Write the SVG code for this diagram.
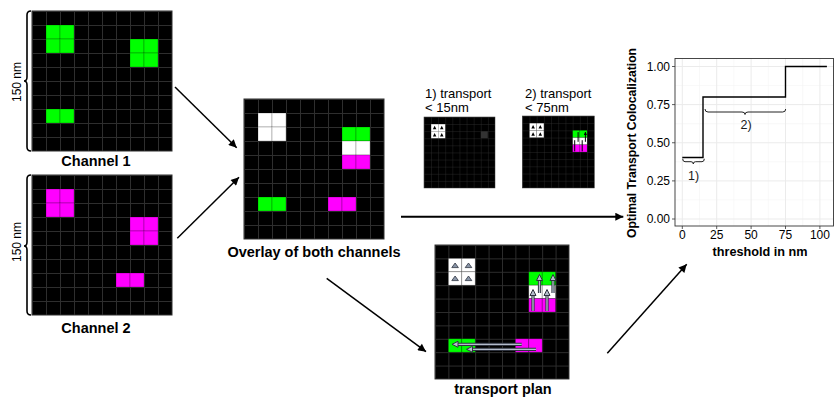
<svg xmlns="http://www.w3.org/2000/svg" width="835" height="399" viewBox="0 0 835 399">
<defs>
<pattern id="grid" width="14" height="14" patternUnits="userSpaceOnUse"><rect width="14" height="14" fill="#000"/><path d="M0 .5H14M.5 0V14" stroke="#2e2e2e" stroke-width="1"/></pattern>
<marker id="ah" viewBox="0 0 10 10" markerWidth="10" markerHeight="8" markerUnits="userSpaceOnUse" refX="10" refY="5" orient="auto"><path d="M0 0L10 5L0 10z" fill="#000"/></marker>
<marker id="sah" viewBox="0 0 10 10" markerWidth="3.5" markerHeight="3.5" markerUnits="userSpaceOnUse" refX="9" refY="5" orient="auto"><path d="M0 0L10 5L0 10z" fill="#000"/></marker>
</defs>
<style>
text{font-family:"Liberation Sans",Arial,sans-serif;fill:#000}
.lbl{font-weight:bold;font-size:14.5px;text-anchor:middle}
.nm{font-size:12px;text-anchor:middle}
.cap{font-size:13px}
.g{fill:#00ff00}
.m{fill:#ff00ff}
.w{fill:#fff}
.gr{fill:#333}
.cells rect{stroke:#000;stroke-opacity:.28;stroke-width:.8}
.frame{fill:url(#grid);stroke:#2e2e2e;stroke-width:1}
.brace{fill:none;stroke:#000;stroke-width:1.6}
.conn{stroke:#000;stroke-width:1.5;fill:none;marker-end:url(#ah)}
.tick{font-size:12px;fill:#4d4d4d}
.major{stroke:#ebebeb;stroke-width:1;fill:none}
.minor{stroke:#f4f4f4;stroke-width:.6;fill:none}
.ao{stroke:#2f3440;stroke-width:3.2;fill:none}
.ai{stroke:#b4bccb;stroke-width:1.3;fill:none}
.ahd{fill:#b4bccb;stroke:#2f3440;stroke-width:1}
.tri{fill:#8a96a8;stroke:#2f3440;stroke-width:.8}
.stri{fill:#000}
.sarr{stroke:#000;stroke-width:1;fill:none;marker-end:url(#sah)}
</style>
<rect width="835" height="399" fill="#fff"/>

<g id="channel1">
<path class="brace" d="M31 11Q27 11 27 15V77Q27 81 24 81Q27 81 27 85V147Q27 151 31 151"/>
<text class="nm" transform="rotate(-90 21 82)" x="21" y="82">150 nm</text>
<g transform="translate(32 11)">
<rect class="frame" width="140" height="140"/>
<g class="cells g">
<rect x="14" y="14" width="14" height="14"/><rect x="28" y="14" width="14" height="14"/><rect x="14" y="28" width="14" height="14"/><rect x="28" y="28" width="14" height="14"/>
<rect x="98" y="28" width="14" height="14"/><rect x="112" y="28" width="14" height="14"/><rect x="98" y="42" width="14" height="14"/><rect x="112" y="42" width="14" height="14"/>
<rect x="14" y="98" width="14" height="14"/><rect x="28" y="98" width="14" height="14"/>
</g>
</g>
<text class="lbl" x="96" y="165.5">Channel 1</text>
</g>

<g id="channel2">
<path class="brace" d="M31 175Q27 175 27 179V242Q27 246 24 246Q27 246 27 250V311Q27 315 31 315"/>
<text class="nm" transform="rotate(-90 21 242)" x="21" y="242">150 nm</text>
<g transform="translate(32 175)">
<rect class="frame" width="140" height="140"/>
<g class="cells m">
<rect x="14" y="14" width="14" height="14"/><rect x="28" y="14" width="14" height="14"/><rect x="14" y="28" width="14" height="14"/><rect x="28" y="28" width="14" height="14"/>
<rect x="98" y="42" width="14" height="14"/><rect x="112" y="42" width="14" height="14"/><rect x="98" y="56" width="14" height="14"/><rect x="112" y="56" width="14" height="14"/>
<rect x="84" y="98" width="14" height="14"/><rect x="98" y="98" width="14" height="14"/>
</g>
</g>
<text class="lbl" x="96" y="333">Channel 2</text>
</g>

<g id="overlay">
<g transform="translate(244 99)">
<rect class="frame" width="140" height="140"/>
<g class="cells">
<rect class="w" x="14" y="14" width="14" height="14"/><rect class="w" x="28" y="14" width="14" height="14"/><rect class="w" x="14" y="28" width="14" height="14"/><rect class="w" x="28" y="28" width="14" height="14"/>
<rect class="g" x="98" y="28" width="14" height="14"/><rect class="g" x="112" y="28" width="14" height="14"/>
<rect class="w" x="98" y="42" width="14" height="14"/><rect class="w" x="112" y="42" width="14" height="14"/>
<rect class="m" x="98" y="56" width="14" height="14"/><rect class="m" x="112" y="56" width="14" height="14"/>
<rect class="g" x="14" y="98" width="14" height="14"/><rect class="g" x="28" y="98" width="14" height="14"/>
<rect class="m" x="84" y="98" width="14" height="14"/><rect class="m" x="98" y="98" width="14" height="14"/>
</g>
</g>
<text class="lbl" x="314" y="256.5">Overlay of both channels</text>
</g>

<g id="transport1">
<text class="cap" x="425" y="98.3">1) transport</text>
<text class="cap" x="425" y="112.3">&lt; 15nm</text>
<g transform="translate(424 117) scale(.507)">
<rect class="frame" width="140" height="140"/>
<g class="cells">
<rect class="w" x="14" y="14" width="14" height="14"/><rect class="w" x="28" y="14" width="14" height="14"/><rect class="w" x="14" y="28" width="14" height="14"/><rect class="w" x="28" y="28" width="14" height="14"/>
<rect class="gr" x="112" y="28" width="14" height="14"/>
</g>
</g>
<g class="stri">
<polygon points="432.9,129.3 436.4,129.3 434.65,125.8"/><polygon points="440,129.3 443.5,129.3 441.75,125.8"/>
<polygon points="432.9,136.4 436.4,136.4 434.65,132.9"/><polygon points="440,136.4 443.5,136.4 441.75,132.9"/>
</g>
</g>

<g id="transport2">
<text class="cap" x="525" y="98.3">2) transport</text>
<text class="cap" x="525" y="112.3">&lt; 75nm</text>
<g transform="translate(522.3 116) scale(.514)">
<rect class="frame" width="140" height="140"/>
<g class="cells">
<rect class="w" x="14" y="14" width="14" height="14"/><rect class="w" x="28" y="14" width="14" height="14"/><rect class="w" x="14" y="28" width="14" height="14"/><rect class="w" x="28" y="28" width="14" height="14"/>
<rect class="g" x="98" y="28" width="14" height="14"/><rect class="g" x="112" y="28" width="14" height="14"/>
<rect class="w" x="98" y="42" width="14" height="14"/><rect class="w" x="112" y="42" width="14" height="14"/>
<rect class="m" x="98" y="56" width="14" height="14"/><rect class="m" x="112" y="56" width="14" height="14"/>
</g>
</g>
<g class="stri">
<polygon points="531.3,128.5 534.9,128.5 533.1,125"/><polygon points="538.5,128.5 542.1,128.5 540.3,125"/>
<polygon points="531.3,135.7 534.9,135.7 533.1,132.2"/><polygon points="538.5,135.7 542.1,135.7 540.3,132.2"/>
</g>
<path class="sarr" d="M574.7 151.4V140.2M578.1 141.8V132.1M582.2 151.4V140.2M585.4 141.8V132.1"/>
</g>

<g id="transportplan">
<g transform="translate(435 245) scale(.957)">
<rect class="frame" width="140" height="140"/>
<g class="cells">
<rect class="w" x="14" y="14" width="14" height="14"/><rect class="w" x="28" y="14" width="14" height="14"/><rect class="w" x="14" y="28" width="14" height="14"/><rect class="w" x="28" y="28" width="14" height="14"/>
<rect class="g" x="98" y="28" width="14" height="14"/><rect class="g" x="112" y="28" width="14" height="14"/>
<rect class="w" x="98" y="42" width="14" height="14"/><rect class="w" x="112" y="42" width="14" height="14"/>
<rect class="m" x="98" y="56" width="14" height="14"/><rect class="m" x="112" y="56" width="14" height="14"/>
<rect class="g" x="14" y="98" width="14" height="14"/><rect class="g" x="28" y="98" width="14" height="14"/>
<rect class="m" x="84" y="98" width="14" height="14"/><rect class="m" x="98" y="98" width="14" height="14"/>
</g>
</g>
<g class="tri">
<polygon points="451.8,267.6 458.4,267.6 455.1,263"/><polygon points="465.2,267.6 471.8,267.6 468.5,263"/>
<polygon points="451.8,280.6 458.4,280.6 455.1,276"/><polygon points="465.2,280.6 471.8,280.6 468.5,276"/>
</g>
<path class="ao" d="M533 311V294M539.5 293V279M547 311V294M553 293V279M521.7 344.3H456.5M536 349.3H471"/>
<path class="ai" d="M533 311V294M539.5 293V279M547 311V294M553 293V279M521.7 344.3H456.5M536 349.3H471"/>
<g class="ahd">
<polygon points="533,289.5 530,295.5 536,295.5"/><polygon points="539.5,274.5 536.5,280.5 542.5,280.5"/>
<polygon points="547,289.5 544,295.5 550,295.5"/><polygon points="553,274.5 550,280.5 556,280.5"/>
<polygon points="452,344.3 458,341.3 458,347.3"/><polygon points="466.5,349.3 472.5,346.3 472.5,352.3"/>
</g>
<text class="lbl" x="503" y="394">transport plan</text>
</g>

<g id="plot">
<rect x="675" y="58.5" width="158.5" height="167.5" fill="#fff"/>
<path class="minor" d="M699.5 58.5V226M733.9 58.5V226M768.3 58.5V226M802.7 58.5V226M675 199.9H833.5M675 161.8H833.5M675 123.7H833.5M675 85.6H833.5"/>
<path class="major" d="M682.3 58.5V226M716.7 58.5V226M751.1 58.5V226M785.5 58.5V226M819.9 58.5V226M675 219H833.5M675 180.9H833.5M675 142.75H833.5M675 104.6H833.5M675 66.5H833.5"/>
<rect x="675" y="58.5" width="158.5" height="167.5" fill="none" stroke="#333" stroke-width=".9"/>
<path d="M682.3 157.5H703V97H785.5V66.5H826.9" fill="none" stroke="#000" stroke-width="1.4"/>
<path d="M682.7 158.8Q682.7 161.7 685 161.7H691Q693.3 161.7 693.3 164Q693.3 161.7 695.6 161.7H702Q704.3 161.7 704.3 158.8" fill="none" stroke="#222" stroke-width="1"/>
<path d="M705 109Q705 112 708 112H742Q745 112 745 114.5Q745 112 748 112H782.7Q785.7 112 785.7 109" fill="none" stroke="#222" stroke-width="1"/>
<text x="693.5" y="179.5" font-size="12.5" text-anchor="middle" style="fill:#1a1a1a">1)</text>
<text x="746" y="128.5" font-size="12.5" text-anchor="middle" style="fill:#1a1a1a">2)</text>
<path d="M672 66.5H675M672 104.6H675M672 142.75H675M672 180.9H675M672 219H675M682.3 226V229M716.7 226V229M751.1 226V229M785.5 226V229M819.9 226V229" stroke="#333" stroke-width=".8"/>
<g class="tick" text-anchor="end">
<text x="670" y="70.8">1.00</text><text x="670" y="108.9">0.75</text><text x="670" y="147">0.50</text><text x="670" y="185.2">0.25</text><text x="670" y="223.3">0.00</text>
</g>
<g class="tick" text-anchor="middle">
<text x="682.3" y="239.3">0</text><text x="716.7" y="239.3">25</text><text x="751.1" y="239.3">50</text><text x="785.5" y="239.3">75</text><text x="819.9" y="239.3">100</text>
</g>
<text x="760" y="256" font-size="13" font-weight="bold" text-anchor="middle" textLength="95" lengthAdjust="spacingAndGlyphs">threshold in nm</text>
<text x="636" y="143" font-size="13" font-weight="bold" text-anchor="middle" transform="rotate(-90 636 143)" textLength="190" lengthAdjust="spacingAndGlyphs">Optimal Transport Colocalization</text>
</g>

<g id="connectors">
<path class="conn" d="M175 87L236.7 147.7"/>
<path class="conn" d="M177.3 238.3L239 177.3"/>
<path class="conn" style="stroke-width:2" d="M401 216.7H623.3"/>
<path class="conn" d="M326.7 278.3L426 351.7"/>
<path class="conn" d="M607.3 353.3L686.7 264.3"/>
</g>
</svg>
